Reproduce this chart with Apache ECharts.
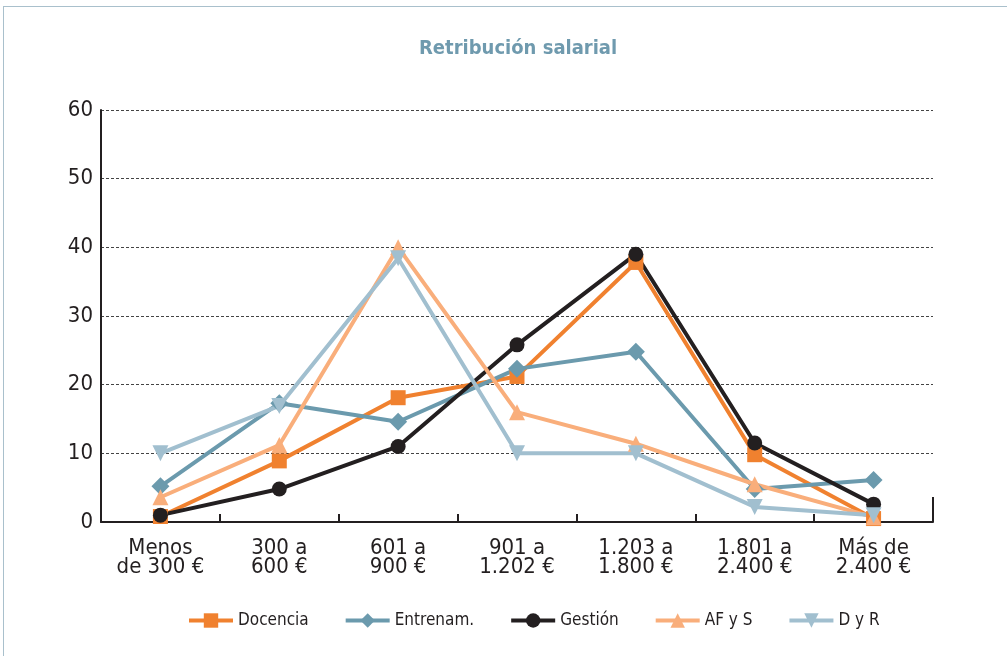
<!DOCTYPE html>
<html>
<head>
<meta charset="utf-8">
<script src="https://cdn.jsdelivr.net/npm/echarts@6/dist/echarts.min.js"></script>
<style>
  html, body { margin: 0; padding: 0; background: #fff; }
  #frame { position: absolute; left: 3px; top: 6px; width: 1010px; height: 660px; border: 1px solid #a9c0cc; box-sizing: border-box; }
  #chart { position: absolute; left: 0; top: 0; width: 1007px; height: 656px; }
</style>
</head>
<body>
<div id="frame"></div>
<div id="chart"></div>
<script>
const categories = ['Menos\nde 300 €', '300 a\n600 €', '601 a\n900 €', '901 a\n1.202 €', '1.203 a\n1.800 €', '1.801 a\n2.400 €', 'Más de\n2.400 €'];
const docencia = [0.8, 8.9, 18.1, 21.2, 37.8, 9.8, 0.5];
const entrenam = [5.2, 17.3, 14.6, 22.3, 24.8, 4.8, 6.1];
const gestion = [1.0, 4.8, 11.0, 25.8, 39.0, 11.5, 2.6];
const afys = [3.6, 11.2, 40.0, 16.0, 11.4, 5.5, 0.7];
const dyr = [10.0, 16.9, 38.4, 10.0, 10.0, 2.2, 1.0];

const font = '"DejaVu Sans Condensed", "Liberation Sans Narrow", sans-serif';
const el = document.getElementById('chart');
const chart = echarts.init(el, null, { renderer: 'canvas' });

function line(name, data, color, symbol, size, rotate) {
    return {
        name,
        type: 'line',
        data,
        symbol,
        symbolSize: size,
        symbolRotate: rotate || 0,
        showAllSymbol: true,
        lineStyle: { color, width: 4 },
        itemStyle: { color, borderWidth: 0 },
    };
}

chart.setOption({
    animation: false,
    backgroundColor: 'transparent',
    textStyle: { fontFamily: font },
    title: {
        text: 'Retribución salarial',
        left: 414,
        top: 34,
        textStyle: { color: '#6f9aae', fontSize: 20, fontWeight: 'bold', fontFamily: font },
    },
    grid: { left: 101, right: 74, top: 110, bottom: 134 },
    legend: {
        bottom: 22,
        left: 182,
        itemWidth: 44,
        itemHeight: 18,
        itemGap: 35,
        lineStyle: { width: 4 },
        textStyle: { color: '#231f20', fontSize: 17, fontFamily: font },
    },
    xAxis: {
        type: 'category',
        data: categories,
        boundaryGap: true,
        axisLine: { lineStyle: { color: '#231f20', width: 2 } },
        axisTick: { show: true, inside: true, length: 8, lineStyle: { color: '#231f20', width: 2 } },
        axisLabel: { color: '#231f20', fontSize: 22, lineHeight: 19, margin: 17, fontFamily: font },
    },
    yAxis: {
        type: 'value',
        min: 0,
        max: 60,
        interval: 10,
        axisLine: { show: true, lineStyle: { color: '#231f20', width: 2 } },
        axisTick: { show: false },
        axisLabel: { color: '#231f20', fontSize: 22, margin: 8, fontFamily: font },
        splitLine: { show: true, lineStyle: { color: '#444', type: [3, 2], width: 1 } },
    },
    graphic: [
        { type: 'line', shape: { x1: 933, y1: 497, x2: 933, y2: 522 }, style: { stroke: '#231f20', lineWidth: 2 } },
    ],
    series: [
        line('Docencia', docencia, '#f0812f', 'rect', 15),
        line('Entrenam.', entrenam, '#6b9aad', 'diamond', 18),
        line('Gestión', gestion, '#231f20', 'circle', 15),
        line('AF y S', afys, '#f9ae7b', 'triangle', 16),
        line('D y R', dyr, '#a1bfcf', 'triangle', 16, 180),
    ],
}, true);
</script>
</body>
</html>
